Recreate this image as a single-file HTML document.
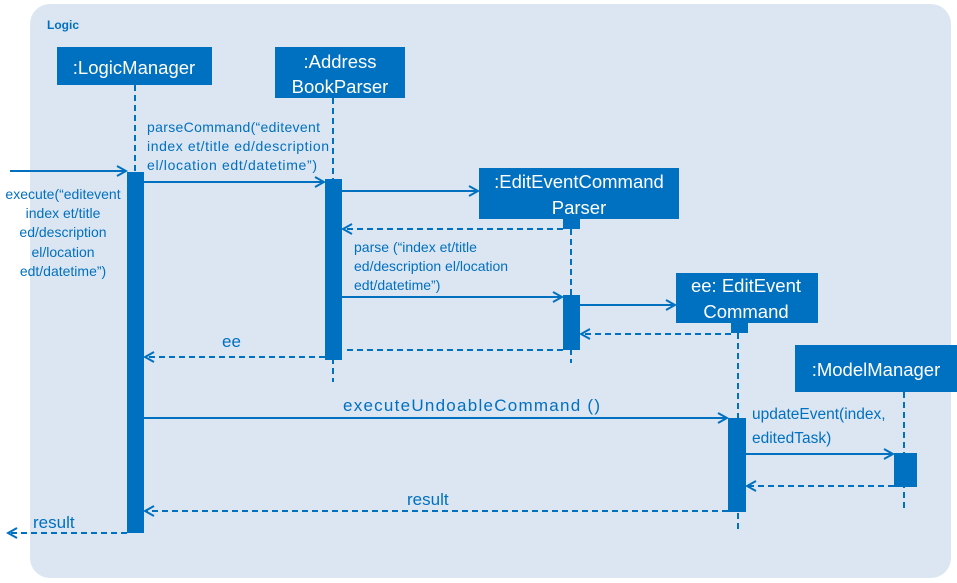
<!DOCTYPE html>
<html><head><meta charset="utf-8"><style>
html,body{margin:0;padding:0;background:#fff;}
svg{display:block;}
text{font-family:"Liberation Sans",sans-serif;fill:#0070C0;}
.w{fill:#fff;font-size:18.5px;}
.s{font-size:14px;}
.m{font-size:17px;}
</style></head><body>
<svg width="957" height="583" viewBox="0 0 957 583" xmlns="http://www.w3.org/2000/svg">
<defs>
<marker id="a" markerWidth="12" markerHeight="12" refX="10" refY="6" orient="auto" markerUnits="userSpaceOnUse">
<path d="M1,1 L10,6 L1,11" fill="none" stroke="#0070C0" stroke-width="2"/></marker>
</defs>
<rect x="30" y="4" width="921" height="574" rx="20" fill="#dce6f2"/>
<text x="47" y="29" style="font-size:12px;font-weight:bold">Logic</text>
<g stroke="#0070C0" stroke-width="2" stroke-dasharray="6,4" fill="none">
<line x1="135" y1="85" x2="135" y2="533"/>
<line x1="333" y1="98" x2="333" y2="382"/>
<line x1="571" y1="219" x2="571" y2="363"/>
<line x1="738" y1="323" x2="738" y2="533"/>
<line x1="904" y1="392" x2="904" y2="508"/>
</g>
<g fill="#0070C0">
<rect x="57" y="47" width="155" height="38"/>
<rect x="275" y="47" width="130" height="51"/>
<rect x="479" y="168" width="200" height="51"/>
<rect x="563" y="219" width="17" height="10"/>
<rect x="676" y="273" width="142" height="50"/>
<rect x="731" y="323" width="17" height="10"/>
<rect x="795" y="345" width="162" height="47"/>
<rect x="127" y="172" width="17" height="361"/>
<rect x="325" y="179" width="17" height="181"/>
<rect x="563" y="295" width="17" height="55"/>
<rect x="728" y="418" width="18" height="94"/>
<rect x="894" y="453" width="23" height="34"/>
</g>
<text class="w" x="134" y="74" text-anchor="middle">:LogicManager</text>
<text class="w" x="340" y="68" text-anchor="middle">:Address</text>
<text class="w" x="340" y="93" text-anchor="middle">BookParser</text>
<text class="w" x="579" y="188" text-anchor="middle">:EditEventCommand</text>
<text class="w" x="579" y="214" text-anchor="middle">Parser</text>
<text class="w" x="746" y="292" text-anchor="middle">ee: EditEvent</text>
<text class="w" x="746" y="318" text-anchor="middle">Command</text>
<text class="w" x="876" y="376" text-anchor="middle">:ModelManager</text>
<g stroke="#0070C0" stroke-width="2" fill="none">
<line x1="10" y1="171" x2="126" y2="171" marker-end="url(#a)"/>
<line x1="144" y1="182" x2="324" y2="182" marker-end="url(#a)"/>
<line x1="342" y1="191" x2="478" y2="191" marker-end="url(#a)"/>
<line x1="342" y1="297" x2="562" y2="297" marker-end="url(#a)"/>
<line x1="580" y1="305" x2="675" y2="305" marker-end="url(#a)"/>
<line x1="144" y1="418" x2="727" y2="418" marker-end="url(#a)"/>
<line x1="746" y1="454" x2="893" y2="454" marker-end="url(#a)"/>
</g>
<g stroke="#0070C0" stroke-width="2" fill="none" stroke-dasharray="6,4">
<line x1="563" y1="229" x2="343" y2="229" marker-end="url(#a)"/>
<line x1="731" y1="334" x2="581" y2="334" marker-end="url(#a)"/>
<line x1="563" y1="350" x2="343" y2="350"/>
<line x1="325" y1="357" x2="145" y2="357" marker-end="url(#a)"/>
<line x1="894" y1="486" x2="747" y2="486" marker-end="url(#a)"/>
<line x1="728" y1="511" x2="145" y2="511" marker-end="url(#a)"/>
<line x1="127" y1="533" x2="8" y2="533" marker-end="url(#a)"/>
</g>
<text class="s" x="147" y="132" textLength="173">parseCommand(“editevent</text>
<text class="s" x="147" y="151" textLength="182">index et/title ed/description</text>
<text class="s" x="147" y="170" textLength="170">el/location edt/datetime”)</text>
<text class="s" x="63" y="199" text-anchor="middle">execute(“editevent</text>
<text class="s" x="63" y="218" text-anchor="middle">index et/title</text>
<text class="s" x="63" y="237" text-anchor="middle">ed/description</text>
<text class="s" x="63" y="257" text-anchor="middle">el/location</text>
<text class="s" x="63" y="276" text-anchor="middle">edt/datetime”)</text>
<text class="s" x="354" y="252">parse (“index et/title</text>
<text class="s" x="354" y="271">ed/description el/location</text>
<text class="s" x="354" y="290">edt/datetime”)</text>
<text class="m" x="222" y="347">ee</text>
<text class="m" x="343" y="411" textLength="257">executeUndoableCommand  ()</text>
<text x="752" y="419" style="font-size:15.5px">updateEvent(index,</text>
<text x="752" y="443" style="font-size:15.5px">editedTask)</text>
<text class="m" x="407" y="505">result</text>
<text class="m" x="33" y="528">result</text>
</svg>
</body></html>
